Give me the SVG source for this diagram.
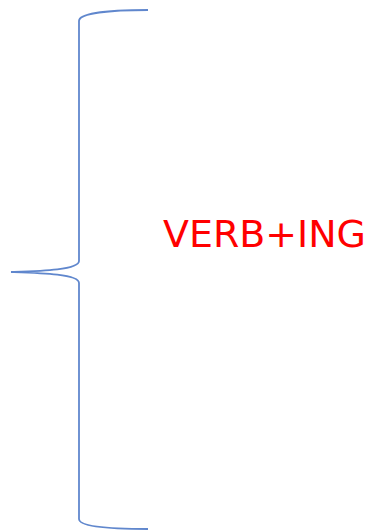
<svg xmlns="http://www.w3.org/2000/svg" width="370" height="531" viewBox="0 0 370 531">
<style>
.brace{fill:none;stroke:#4472C4;stroke-width:1.8;stroke-opacity:0.85}
.lbl{font-family:"DejaVu Sans",Verdana,sans-serif;font-size:38px;fill:#FF0000}
</style>
<rect width="370" height="531" fill="#FFFFFF"/>
<g id="brace">
<path class="brace" d="M148,10 C110,10 79,13 79,21 L79,261 C79,270 40,271 11,272 C40,273 79,274 79,283 L79,519 C79,527 110,529 148,529"/>
</g>
<g id="label">
<text class="lbl" x="163" y="247" textLength="203" lengthAdjust="spacingAndGlyphs">VERB+ING</text>
</g>
</svg>
